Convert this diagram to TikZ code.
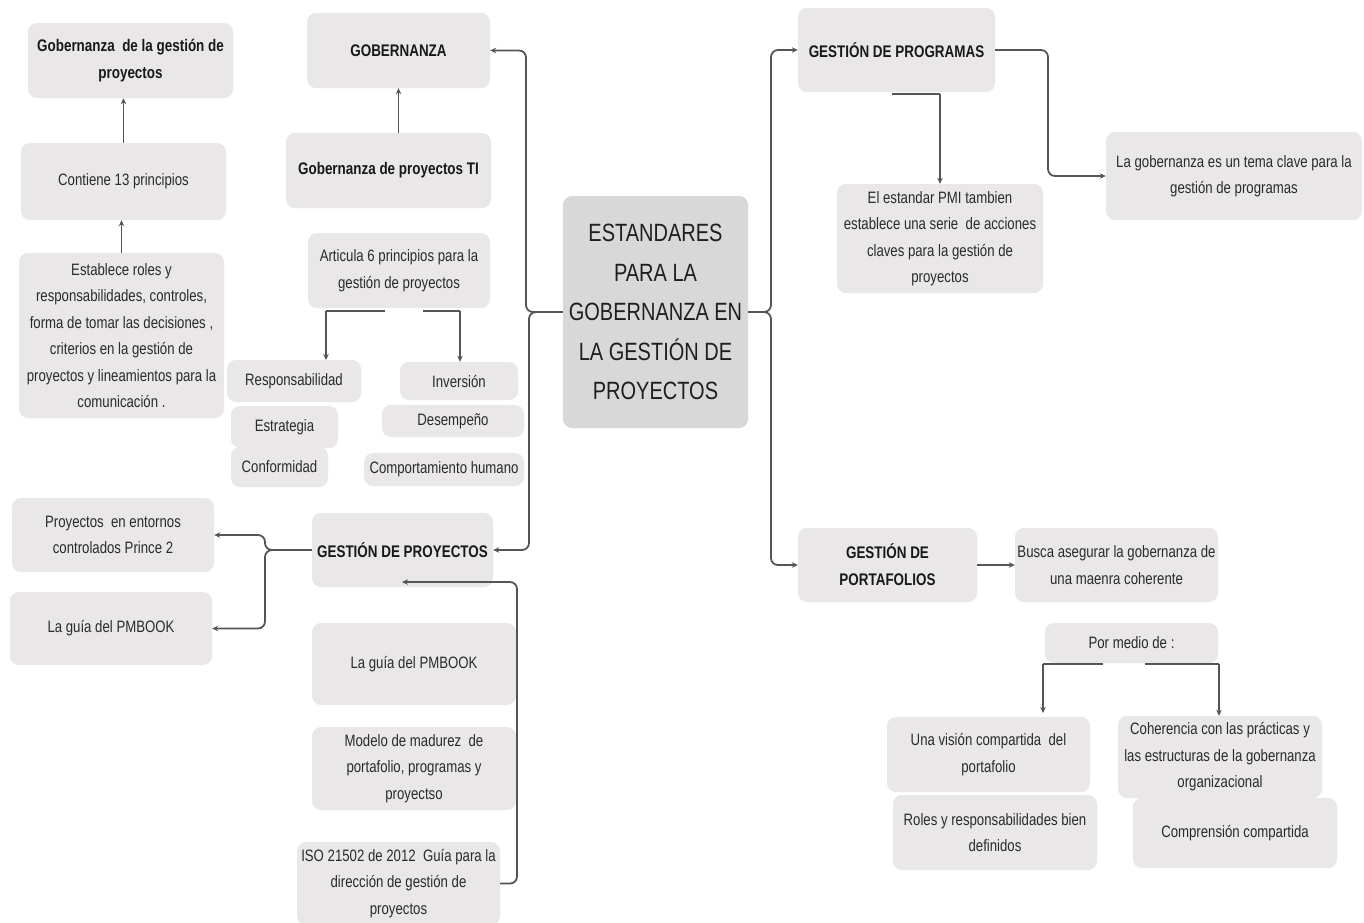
\documentclass[tikz,border=0pt]{standalone}
\usepackage{fontspec}
\setmainfont{Liberation Sans}[FakeStretch=0.8]
\usetikzlibrary{arrows.meta}
\definecolor{boxfill}{HTML}{E9E7E7}
\definecolor{hubfill}{HTML}{D9D8D8}
\definecolor{linecol}{HTML}{555555}
\definecolor{txt}{HTML}{2B2B2B}
\tikzset{
  box/.style={fill=boxfill, rounded corners=9pt, inner sep=0pt, align=center,
    text=txt, font=\fontsize{16.5}{26.5}\selectfont},
  head/.style={box, text=black!90, font=\fontsize{16.8}{27}\selectfont\bfseries},
  hub/.style={box, fill=hubfill, text=black!88, font=\fontsize{25}{39.5}\selectfont},
  conn/.style={draw=linecol, line width=1.8pt, rounded corners=7pt,
    -{Stealth[length=6pt,width=5.5pt]}},
  stub/.style={draw=linecol, line width=2.6pt}
}
\begin{document}
\begin{tikzpicture}[x=1pt,y=-1pt]
\useasboundingbox[fill=white] (0,0) rectangle (1364,922);

% central topic
\node[hub, minimum width=185pt, minimum height=232pt] (hub) at (655.5,312)
  {ESTANDARES\\PARA LA\\GOBERNANZA EN\\LA GESTIÓN DE\\PROYECTOS};

% governance branch
\node[head, minimum width=183pt, minimum height=75pt] (gob) at (398.5,50.5) {GOBERNANZA};
\node[head, minimum width=205pt, minimum height=75pt] (gobti) at (388.5,170.5) {Gobernanza de proyectos TI};
\node[box, minimum width=182pt, minimum height=75pt] (art) at (399,270.5) {Articula 6 principios para la\\gestión de proyectos};
\node[box, minimum width=134pt, minimum height=42pt] (resp) at (294,381) {Responsabilidad};
\node[box, minimum width=118pt, minimum height=38pt] (inv) at (459,381) {Inversión};
\node[box, minimum width=107pt, minimum height=42pt] (estr) at (284.5,427) {Estrategia};
\node[box, minimum width=142pt, minimum height=32pt] (desem) at (453,421) {Desempeño};
\node[box, minimum width=97pt, minimum height=40pt] (conf) at (279.5,467) {Conformidad};
\node[box, minimum width=160pt, minimum height=33pt] (comp) at (444,469.5) {Comportamiento humano};

\node[head, minimum width=205pt, minimum height=75pt] (gobgp) at (130.5,60.5) {Gobernanza \ de la gestión de\\proyectos};
\node[box, minimum width=205pt, minimum height=77pt] (cont) at (123.5,181.5) {Contiene 13 principios};
\node[box, minimum width=205pt, minimum height=165pt] (estab) at (121.5,335.5)
  {Establece roles y\\responsabilidades, controles,\\forma de tomar las decisiones ,\\criterios en la gestión de\\proyectos y lineamientos para la\\comunicación .};

% project management branch
\node[head, minimum width=181pt, minimum height=74pt] (gproy) at (402.5,550) {GESTIÓN DE PROYECTOS};
\node[box, minimum width=202pt, minimum height=74pt] (proy) at (113,535) {Proyectos \ en entornos\\controlados Prince 2};
\node[box, minimum width=202pt, minimum height=73pt] (pmbl) at (111,628.5) {La guía del PMBOOK};
\node[box, minimum width=204pt, minimum height=82pt] (pmbb) at (414,664) {La guía del PMBOOK};
\node[box, minimum width=204pt, minimum height=83pt] (model) at (414,768.5) {Modelo de madurez \ de\\portafolio, programas y\\proyectso};
\node[box, minimum width=203pt, minimum height=83pt] (iso) at (398.5,883.5) {ISO 21502 de 2012 \ Guía para la\\dirección de gestión de\\proyectos};

% programme branch
\node[head, minimum width=197pt, minimum height=84pt] (gprog) at (896.5,50) {GESTIÓN DE PROGRAMAS};
\node[box, minimum width=206pt, minimum height=109pt] (pmi) at (940,238.5) {El estandar PMI tambien\\establece una serie \ de acciones\\claves para la gestión de\\proyectos};
\node[box, minimum width=256pt, minimum height=88pt] (lagob) at (1234,176) {La gobernanza es un tema clave para la\\gestión de programas};

% portfolio branch
\node[head, minimum width=179pt, minimum height=74pt] (gport) at (887.5,565) {GESTIÓN DE\\PORTAFOLIOS};
\node[box, minimum width=203pt, minimum height=74pt] (busca) at (1116.5,565) {Busca asegurar la gobernanza de\\una maenra coherente};
\node[box, minimum width=173pt, minimum height=40pt] (medio) at (1131.5,643) {Por medio de :};
\node[box, minimum width=203pt, minimum height=75pt] (vision) at (988.5,754.5) {Una visión compartida \ del\\portafolio};
\node[box, minimum width=204pt, minimum height=75pt] (roles) at (995,832.5) {Roles y responsabilidades bien\\definidos};
\node[box, minimum width=204pt, minimum height=82pt] (coher) at (1220,757) {Coherencia con las prácticas y\\las estructuras de la gobernanza\\organizacional};
\node[box, minimum width=204pt, minimum height=70pt] (compr) at (1235,833) {Comprensión compartida};

% junctions and free ends of connectors
\coordinate (jl1) at (526,312);
\coordinate (jl2) at (529,312);
\coordinate (jr) at (771,312);
\coordinate (jp) at (265,550);
\coordinate (isoturn) at (517,883.5);
\coordinate (gproyin) at (402,582);
\coordinate (progturn) at (1048,50);
\coordinate (progs1) at (892,94);
\coordinate (progs2) at (940,94);
\coordinate (arts1) at (385,311);
\coordinate (arts2) at (326,311);
\coordinate (artd1) at (326,360);
\coordinate (artr1) at (423,311);
\coordinate (artr2) at (460,311);
\coordinate (meds1) at (1103,664);
\coordinate (meds2) at (1043,664);
\coordinate (medd1) at (1043,713);
\coordinate (medr1) at (1145,664);
\coordinate (medr2) at (1219,664);

% hub to main branches
\draw[conn] (hub.west) -- (jl1) |- (gob.east);
\draw[conn] (hub.west) -- (jl2) |- (gproy.east);
\draw[conn] (hub.east) -- (jr) |- (gprog.west);
\draw[conn] (hub.east) -- (jr) |- (gport.west);

% governance details
\draw[conn] (gobti.north -| gob.south) -- (gob.south);
\draw[conn] (cont.north) -- (gobgp.south -| cont.north);
\draw[conn] (estab.north) -- (cont.south -| estab.north);
\draw[stub] (arts1) -- (arts2);
\draw[conn] (arts2) -- (artd1);
\draw[stub] (artr1) -- (artr2);
\draw[conn] (artr2) -- (inv.north -| artr2);

% project management details
\draw[conn] (gproy.west) -- (jp) |- (proy.east);
\draw[conn] (gproy.west) -- (jp) |- (pmbl.east);
\draw[conn] (iso.east) -- (isoturn) |- (gproyin);

% programme details
\draw[conn] (gprog.east) -- (progturn) |- (lagob.west);
\draw[stub] (progs1) -- (progs2);
\draw[conn] (progs2) -- (pmi.north);

% portfolio details
\draw[conn] (gport.east) -- (busca.west);
\draw[stub] (meds1) -- (meds2);
\draw[conn] (meds2) -- (medd1);
\draw[stub] (medr1) -- (medr2);
\draw[conn] (medr2) -- (coher.north -| medr2);
\end{tikzpicture}
\end{document}
